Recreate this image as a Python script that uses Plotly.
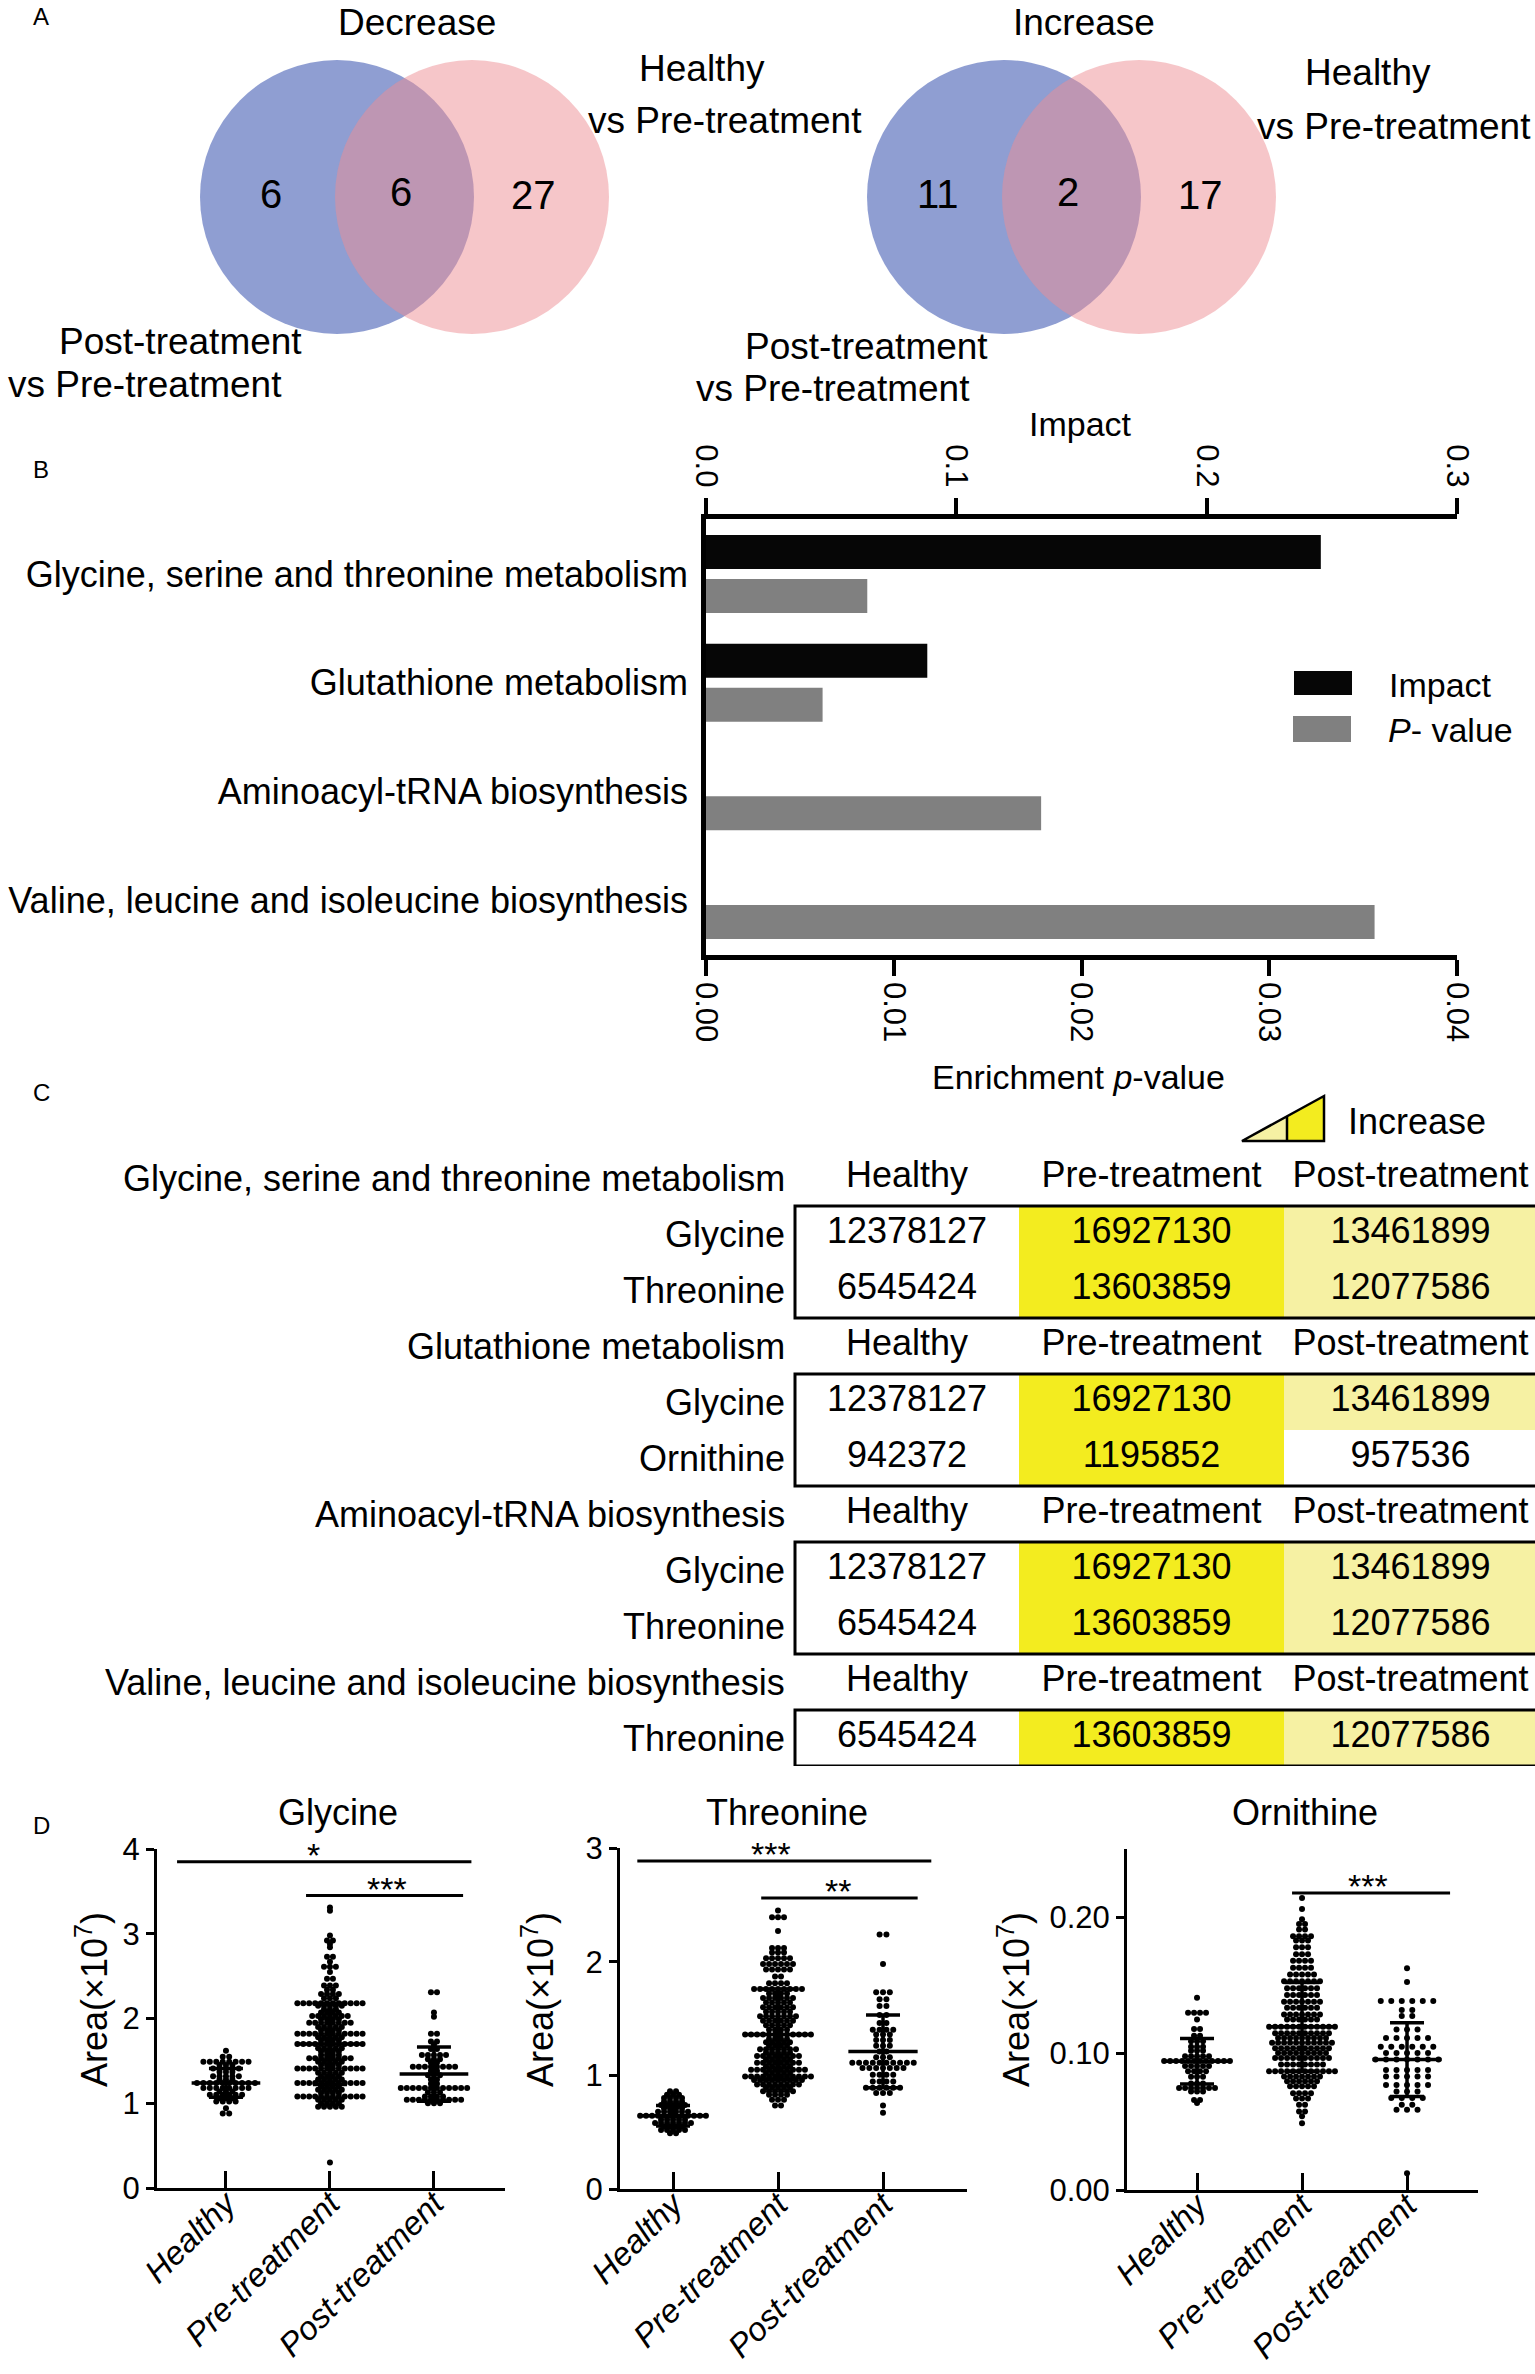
import plotly.graph_objects as go

W, H = 1535, 2374
FONT = "Liberation Sans, Arial, Helvetica, sans-serif"

# ---------------- A: Venn counts ----------------
venn_titles = ["Decrease", "Increase"]
venn_post_only = [6, 11]
venn_shared = [6, 2]
venn_healthy_only = [27, 17]

# ---------------- B: pathway enrichment ----------------
pathways = ["Glycine, serine and threonine metabolism", "Glutathione metabolism",
            "Aminoacyl-tRNA biosynthesis", "Valine, leucine and isoleucine biosynthesis"]
impact = [0.2456, 0.0884, None, None]
enrich_p = [0.00859, 0.00621, 0.01785, 0.03561]

# ---------------- C: table ----------------
groups = ["Healthy", "Pre-treatment", "Post-treatment"]
pathway_metabolites = [["Glycine", "Threonine"], ["Glycine", "Ornithine"],
                       ["Glycine", "Threonine"], ["Threonine"]]
metabolite_area = {
    "Glycine": [12378127, 16927130, 13461899],
    "Threonine": [6545424, 13603859, 12077586],
    "Ornithine": [942372, 1195852, 957536],
}
# 0 = no change, 1 = increase, 2 = strongest increase
metabolite_shade = {"Glycine": [0, 2, 1], "Threonine": [0, 2, 1], "Ornithine": [0, 2, 0]}

# ---------------- D: scatter rows (value level, number of points) ----------------
gly_h_lv = [0.88, 0.94, 1.02, 1.06, 1.10, 1.14, 1.18, 1.24, 1.28, 1.32, 1.37, 1.41, 1.45, 1.49, 1.55, 1.62]
gly_h_n = [2, 1, 4, 3, 6, 3, 8, 10, 3, 5, 3, 5, 3, 8, 2, 1]
gly_p_lv = [0.30, 0.96, 1.00, 1.04, 1.08, 1.12, 1.16, 1.20, 1.24, 1.28, 1.32, 1.36, 1.41, 1.45, 1.49, 1.53,
            1.57, 1.61, 1.65, 1.70, 1.74, 1.78, 1.82, 1.86, 1.90, 1.95, 1.99, 2.03, 2.07, 2.11, 2.15, 2.18,
            2.24, 2.29, 2.34, 2.39, 2.47, 2.55, 2.61, 2.67, 2.73, 2.84, 2.88, 2.92, 2.98, 3.27, 3.31]
gly_p_n = [1, 5, 4, 5, 12, 4, 5, 4, 12, 5, 4, 5, 12, 4, 5, 8, 4, 4, 5, 12, 4, 5, 12, 4, 5, 8, 4, 7, 4, 3,
           5, 12, 3, 4, 2, 3, 2, 1, 3, 1, 2, 1, 1, 2, 1, 1, 1]
gly_o_lv = [1.00, 1.04, 1.08, 1.13, 1.18, 1.23, 1.28, 1.33, 1.38, 1.43, 1.48, 1.52, 1.57, 1.64, 1.69, 1.73,
            1.82, 2.02, 2.07, 2.31]
gly_o_n = [3, 10, 4, 3, 12, 2, 2, 3, 2, 8, 2, 3, 5, 2, 1, 2, 2, 1, 1, 2]

thr_h_lv = [0.49, 0.52, 0.55, 0.58, 0.61, 0.645, 0.68, 0.71, 0.74, 0.77, 0.80, 0.83, 0.86]
thr_h_n = [2, 5, 4, 7, 5, 12, 6, 4, 5, 4, 4, 3, 2]
thr_p_lv = [0.735, 0.785, 0.83, 0.86, 0.89, 0.92, 0.96, 0.99, 1.02, 1.05, 1.08, 1.11, 1.14, 1.17, 1.20, 1.23,
            1.26, 1.29, 1.32, 1.36, 1.40, 1.44, 1.48, 1.52, 1.56, 1.60, 1.64, 1.68, 1.72, 1.76, 1.81, 1.87,
            1.93, 1.98, 2.03, 2.08, 2.12, 2.27, 2.39, 2.45]
thr_p_n = [2, 3, 4, 6, 5, 8, 9, 12, 5, 10, 5, 8, 5, 8, 5, 7, 4, 5, 4, 12, 4, 5, 6, 7, 5, 6, 5, 6, 4, 9,
           4, 2, 5, 6, 5, 3, 3, 1, 3, 1]
thr_o_lv = [0.67, 0.735, 0.845, 0.89, 0.945, 1.005, 1.065, 1.11, 1.16, 1.21, 1.26, 1.31, 1.36, 1.40, 1.46,
            1.53, 1.61, 1.67, 1.73, 1.98, 2.24]
thr_o_n = [1, 1, 3, 6, 4, 4, 7, 10, 3, 2, 3, 3, 3, 4, 2, 2, 2, 2, 3, 1, 2]

orn_h_lv = [0.0637, 0.066, 0.0723, 0.0748, 0.078, 0.083, 0.087, 0.091, 0.0945, 0.098, 0.102, 0.105, 0.109,
            0.113, 0.118, 0.125, 0.130, 0.141]
orn_h_n = [1, 2, 3, 7, 3, 3, 4, 5, 12, 5, 3, 3, 3, 2, 2, 1, 4, 1]
orn_p_lv = [0.049, 0.054, 0.0576, 0.0625, 0.067, 0.071, 0.076, 0.0797, 0.0833, 0.087, 0.092, 0.0968, 0.1005,
            0.104, 0.108, 0.1115, 0.115, 0.1196, 0.125, 0.1287, 0.1336, 0.138, 0.143, 0.148, 0.153, 0.158,
            0.163, 0.168, 0.1728, 0.178, 0.183, 0.186, 0.191, 0.195, 0.1985, 0.206, 0.214]
orn_p_n = [1, 1, 2, 2, 3, 4, 5, 6, 7, 12, 8, 10, 9, 10, 11, 9, 10, 12, 6, 7, 6, 7, 6, 6, 7, 5, 4, 4, 3, 3,
           3, 4, 2, 2, 1, 1, 1]
orn_o_lv = [0.0123, 0.0588, 0.0625, 0.0674, 0.0723, 0.077, 0.0833, 0.088, 0.0956, 0.1005, 0.105, 0.1115,
            0.1176, 0.1275, 0.132, 0.1385, 0.1525, 0.1625]
orn_o_n = [1, 3, 2, 4, 3, 5, 5, 5, 7, 5, 6, 5, 3, 2, 2, 6, 1, 1]

gly_mean = [1.24, 1.70, 1.345]
gly_sd = [0.17, 0.48, 0.32]
thr_mean = [0.644, 1.36, 1.21]
thr_sd = [0.09, 0.40, 0.32]
orn_mean = [0.0944, 0.1196, 0.0956]
orn_sd = [0.0166, 0.0326, 0.027]

# significance bars: (from, to, height, stars, star x)
gly_sig = [(-0.47, 2.36, 3.85, "*", 0.84), (0.77, 2.28, 3.45, "***", 1.55)]
thr_sig = [(-0.34, 2.46, 2.886, "***", 0.93), (0.84, 2.33, 2.56, "**", 1.57)]
orn_sig = [(0.905, 2.41, 0.2177, "***", 1.63)]


def xd(px):
    return px / W


def yd(py):
    return 1 - py / H


fig = go.Figure()
ann = []
shapes = []


def txt(x, y, s, size, xanchor="center", yanchor="middle", xref="x", yref="y", angle=0, yshift=0):
    ann.append(dict(x=x, y=y, text=s, xref=xref, yref=yref, showarrow=False, xanchor=xanchor,
                    yanchor=yanchor, textangle=angle, yshift=yshift,
                    font=dict(family=FONT, size=size, color="black")))


# canvas axis (pixel units) for free text and decorations
fig.add_trace(go.Scatter(x=[0], y=[0], mode="markers", marker=dict(opacity=0),
                         hoverinfo="skip", showlegend=False))

# ---------------- panel A ----------------
blue = "rgba(31,61,165,0.5)"
pink = "rgba(237,141,147,0.5)"
venn_cx = [337, 1004]
for i, cx in enumerate(venn_cx):
    r = 137
    shapes.append(dict(type="circle", xref="x", yref="y", x0=cx - r, x1=cx + r, y0=197 - r, y1=197 + r,
                       fillcolor=blue, line=dict(width=0)))
    shapes.append(dict(type="circle", xref="x", yref="y", x0=cx + 135 - r, x1=cx + 135 + r,
                       y0=197 - r, y1=197 + r, fillcolor=pink, line=dict(width=0)))
    txt(cx - 66, 194, str(venn_post_only[i]), 40)
    txt(cx + 64, 192, str(venn_shared[i]), 40)
    txt(cx + 196, 195, str(venn_healthy_only[i]), 40)
    txt(cx + 80, 0, venn_titles[i], 37, yanchor="top")

txt(702, 68, "Healthy", 37)
txt(725, 120, "vs Pre-treatment", 37)
txt(180, 341, "Post-treatment", 37)
txt(145, 384, "vs Pre-treatment", 37)
txt(1368, 72, "Healthy", 37)
txt(1394, 126, "vs Pre-treatment", 37)
txt(866, 346, "Post-treatment", 37)
txt(833, 388, "vs Pre-treatment", 37)

for lab, yy in zip("ABCD", [16, 469, 1092, 1825]):
    txt(41, yy, lab, 24)

# ---------------- panel B ----------------
fig.add_trace(go.Bar(y=pathways, x=impact, orientation="h", xaxis="x2", yaxis="y2",
                     width=0.313, offset=-0.359, marker=dict(color="#060606", line=dict(width=0)),
                     showlegend=False, hoverinfo="skip"))
fig.add_trace(go.Bar(y=pathways, x=enrich_p, orientation="h", xaxis="x3", yaxis="y2",
                     width=0.313, offset=0.046, marker=dict(color="#808080", line=dict(width=0)),
                     showlegend=False, hoverinfo="skip"))

txt(1080, 424, "Impact", 34)
txt(1078, 1077, "Enrichment <i>p</i>-value", 34)
shapes.append(dict(type="rect", xref="x", yref="y", x0=1294, x1=1352, y0=671, y1=695,
                   fillcolor="#060606", line=dict(width=0)))
shapes.append(dict(type="rect", xref="x", yref="y", x0=1293, x1=1351, y0=716, y1=742,
                   fillcolor="#808080", line=dict(width=0)))
txt(1387, 685, "Impact", 34, xanchor="left")
txt(1386, 730, "<i>P</i>- value", 34, xanchor="left")

bx_axis = dict(showline=True, linewidth=4.5, linecolor="black", ticks="outside", ticklen=16, tickwidth=4,
               tickcolor="black", showgrid=False, zeroline=False, tickangle=90, automargin=False,
               tickfont=dict(family=FONT, size=31, color="black"), fixedrange=True)

# ---------------- panel C ----------------
bright = "#f3ec1f"
light = "#f6f1a3"
col_edges = [795, 1019, 1284, 1537]
col_mid = [(col_edges[i] + col_edges[i + 1]) / 2 for i in range(3)]
z_rows, row_labels, header_rows, boxes = [], [], [], []
row = 0
for pw, mets in zip(pathways, pathway_metabolites):
    header_rows.append((row, pw))
    z_rows.append([None, None, None])
    row += 1
    first = row
    for m in mets:
        row_labels.append((row, m))
        z_rows.append(metabolite_shade[m])
        row += 1
    boxes.append((first, row - 1))
n_rows = row

fig.add_trace(go.Heatmap(z=z_rows, x=col_edges, y=[i - 0.5 for i in range(n_rows + 1)],
                         xaxis="x4", yaxis="y4", zmin=0, zmax=2, showscale=False, hoverinfo="skip",
                         colorscale=[[0, "white"], [0.25, "white"], [0.25, light], [0.75, light],
                                     [0.75, bright], [1, bright]]))
vx, vy, vt = [], [], []
for r_i, m in row_labels:
    for c in range(3):
        vx.append(col_mid[c])
        vy.append(r_i)
        vt.append(str(metabolite_area[m][c]))
    txt(787, r_i, m, 36, xanchor="right", xref="x4", yref="y4")
for r_i, pw in header_rows:
    for c in range(3):
        vx.append(col_mid[c])
        vy.append(r_i)
        vt.append(groups[c])
    txt(787, r_i, pw, 36, xanchor="right", xref="x4", yref="y4")
fig.add_trace(go.Scatter(x=vx, y=vy, text=vt, mode="text", xaxis="x4", yaxis="y4", cliponaxis=False,
                         textfont=dict(family=FONT, size=36, color="black"),
                         hoverinfo="skip", showlegend=False))
for a, b in boxes:
    shapes.append(dict(type="rect", xref="x4", yref="y4", x0=col_edges[0], x1=col_edges[-1],
                       y0=a - 0.5, y1=b + 0.5, line=dict(color="black", width=3)))

# increase legend triangle
shapes.append(dict(type="path", xref="x", yref="y", path="M1242,1141 L1287,1141 L1287,1116.3 Z",
                   fillcolor=light, line=dict(width=0)))
shapes.append(dict(type="path", xref="x", yref="y", path="M1287,1141 L1324,1141 L1324,1096 L1287,1116.3 Z",
                   fillcolor=bright, line=dict(width=0)))
shapes.append(dict(type="path", xref="x", yref="y",
                   path="M1242,1141 L1324,1141 L1324,1096 Z M1287,1141 L1287,1116.3",
                   line=dict(color="black", width=2.5)))
txt(1417, 1121, "Increase", 36)


# ---------------- panel D ----------------
def swarm(levels, counts, pos, step):
    xs, ys = [], []
    for v, n in zip(levels, counts):
        for k in range(n):
            xs.append(pos + (k - (n - 1) / 2) * step)
            ys.append(v)
    return xs, ys


panels = [
    dict(name="Glycine", rows=[(gly_h_lv, gly_h_n), (gly_p_lv, gly_p_n), (gly_o_lv, gly_o_n)],
         mean=gly_mean, sd=gly_sd, sig=gly_sig, xdom=(157, 505), xr=[-0.663, 2.683], y0=2188, y1=1849,
         yr=[0, 4], tv=[0, 1, 2, 3, 4], tt=["0", "1", "2", "3", "4"], tx=338, ytx=92,
         steps=[0.062, 0.057, 0.058]),
    dict(name="Threonine", rows=[(thr_h_lv, thr_h_n), (thr_p_lv, thr_p_n), (thr_o_lv, thr_o_n)],
         mean=thr_mean, sd=thr_sd, sig=thr_sig, xdom=(620, 967), xr=[-0.505, 2.8], y0=2189, y1=1848,
         yr=[0, 3], tv=[0, 1, 2, 3], tt=["0", "1", "2", "3"], tx=787, ytx=538, steps=[0.057, 0.057, 0.065]),
    dict(name="Ornithine", rows=[(orn_h_lv, orn_h_n), (orn_p_lv, orn_p_n), (orn_o_lv, orn_o_n)],
         mean=orn_mean, sd=orn_sd, sig=orn_sig, xdom=(1127, 1478), xr=[-0.667, 2.676], y0=2190, y1=1849,
         yr=[0, 0.25], tv=[0, 0.1, 0.2], tt=["0.00", "0.10", "0.20"], tx=1305, ytx=1014,
         steps=[0.057, 0.057, 0.1]),
]

layout_axes = {}
for k, p in enumerate(panels):
    ax = 5 + k
    xa, ya = "x%d" % ax, "y%d" % ax
    for g, (lv, nn) in enumerate(p["rows"]):
        xs, ys = swarm(lv, nn, g, p["steps"][g])
        fig.add_trace(go.Scatter(x=xs, y=ys, mode="markers", xaxis=xa, yaxis=ya,
                                 marker=dict(size=6, color="black"), hoverinfo="skip", showlegend=False))
    mx, my = [], []
    for g, m in enumerate(p["mean"]):
        mx += [g - 0.33, g + 0.33, None]
        my += [m, m, None]
    fig.add_trace(go.Scatter(x=mx, y=my, mode="lines", xaxis=xa, yaxis=ya,
                             line=dict(color="black", width=3.5), hoverinfo="skip", showlegend=False))
    fig.add_trace(go.Scatter(x=[0, 1, 2], y=p["mean"], mode="markers", xaxis=xa, yaxis=ya,
                             marker=dict(size=1, color="black"),
                             error_y=dict(type="data", array=p["sd"], width=17, thickness=3.5, color="black"),
                             hoverinfo="skip", showlegend=False))
    for (a, b, h, stars, sx) in p["sig"]:
        shapes.append(dict(type="line", xref=xa, yref=ya, x0=a, x1=b, y0=h, y1=h,
                           line=dict(color="black", width=3)))
        txt(sx, h, stars, 34, yanchor="bottom", xref=xa, yref=ya, yshift=-14)
    txt(p["tx"], 1812, p["name"], 36)
    txt(p["ytx"], 2000, "Area(×10<sup>7</sup>)", 36, angle=-90)
    layout_axes["xaxis%d" % ax] = dict(
        domain=[xd(p["xdom"][0]), xd(p["xdom"][1])], anchor=ya, range=p["xr"], showline=True, linewidth=3,
        linecolor="black", ticks="inside", ticklen=17, tickwidth=3, tickcolor="black", showgrid=False,
        zeroline=False, tickvals=[0, 1, 2], ticktext=["<i>%s</i>" % g for g in groups], tickangle=-45,
        ticklabelstandoff=-20,
        tickfont=dict(family=FONT, size=33, color="black"), fixedrange=True, automargin=False)
    layout_axes["yaxis%d" % ax] = dict(
        domain=[yd(p["y0"]), yd(p["y1"])], anchor=xa, range=p["yr"], showline=True, linewidth=3,
        linecolor="black", ticks="outside", ticklen=8, tickwidth=3, tickcolor="black", showgrid=False,
        zeroline=False, tickvals=p["tv"], ticktext=p["tt"], automargin=False,
        tickfont=dict(family=FONT, size=31, color="black"), fixedrange=True)

fig.update_layout(
    width=W, height=H, margin=dict(l=0, r=0, t=0, b=0, pad=0, autoexpand=False),
    paper_bgcolor="white", plot_bgcolor="rgba(0,0,0,0)",
    font=dict(family=FONT, color="black"), showlegend=False, hovermode=False,
    xaxis=dict(domain=[0, 1], range=[0, W], visible=False, fixedrange=True, automargin=False),
    yaxis=dict(domain=[0, 1], range=[H, 0], visible=False, fixedrange=True, automargin=False),
    xaxis2=dict(domain=[xd(706), xd(1457)], anchor="y2", side="top", range=[0, 0.3],
                tickvals=[0, 0.1, 0.2, 0.3], ticktext=["0.0", "0.1", "0.2", "0.3"], **bx_axis),
    xaxis3=dict(overlaying="x2", anchor="y2", side="bottom", range=[0, 0.04],
                tickvals=[0, 0.01, 0.02, 0.03, 0.04], ticktext=["0.00", "0.01", "0.02", "0.03", "0.04"],
                **bx_axis),
    yaxis2=dict(domain=[yd(955), yd(519)], anchor="x2", type="category", categoryorder="array",
                categoryarray=pathways, range=[3.507, -0.507], showline=True, linewidth=4.5,
                linecolor="black", ticks="", showgrid=False, zeroline=False, ticklabelstandoff=6,
                tickfont=dict(family=FONT, size=36, color="black"), fixedrange=True, automargin=False),
    xaxis4=dict(domain=[0, 1], range=[0, W], anchor="y4", visible=False, fixedrange=True, automargin=False),
    yaxis4=dict(domain=[yd(1766), yd(1150)], range=[n_rows - 0.5, -0.5], anchor="x4", visible=False,
                fixedrange=True, automargin=False),
    annotations=ann, shapes=shapes,
    **layout_axes,
)

fig.write_html("out.html", config={"displayModeBar": False},
               post_script="document.body.style.margin='0px';document.body.style.overflow='hidden';")
